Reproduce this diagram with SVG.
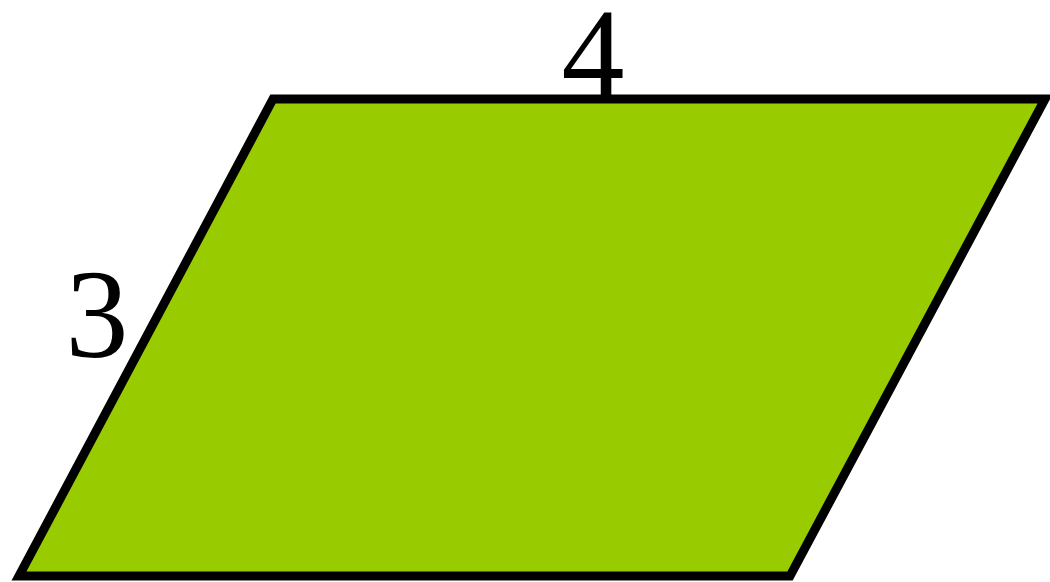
<svg xmlns="http://www.w3.org/2000/svg" width="1050" height="582" viewBox="0 0 1050 582">
<rect width="1050" height="582" fill="#fff"/>
<g id="parallelogram">
<polygon points="273,99 1045,99 790,576 19,576" fill="#99CC00" stroke="#000" stroke-width="9" stroke-linejoin="miter"/>
</g>
<g id="labels" font-family="'Liberation Serif', serif" font-size="126" fill="#000" text-anchor="middle">
<text x="593" y="96">4</text>
<text x="97" y="357">3</text>
</g>
</svg>
